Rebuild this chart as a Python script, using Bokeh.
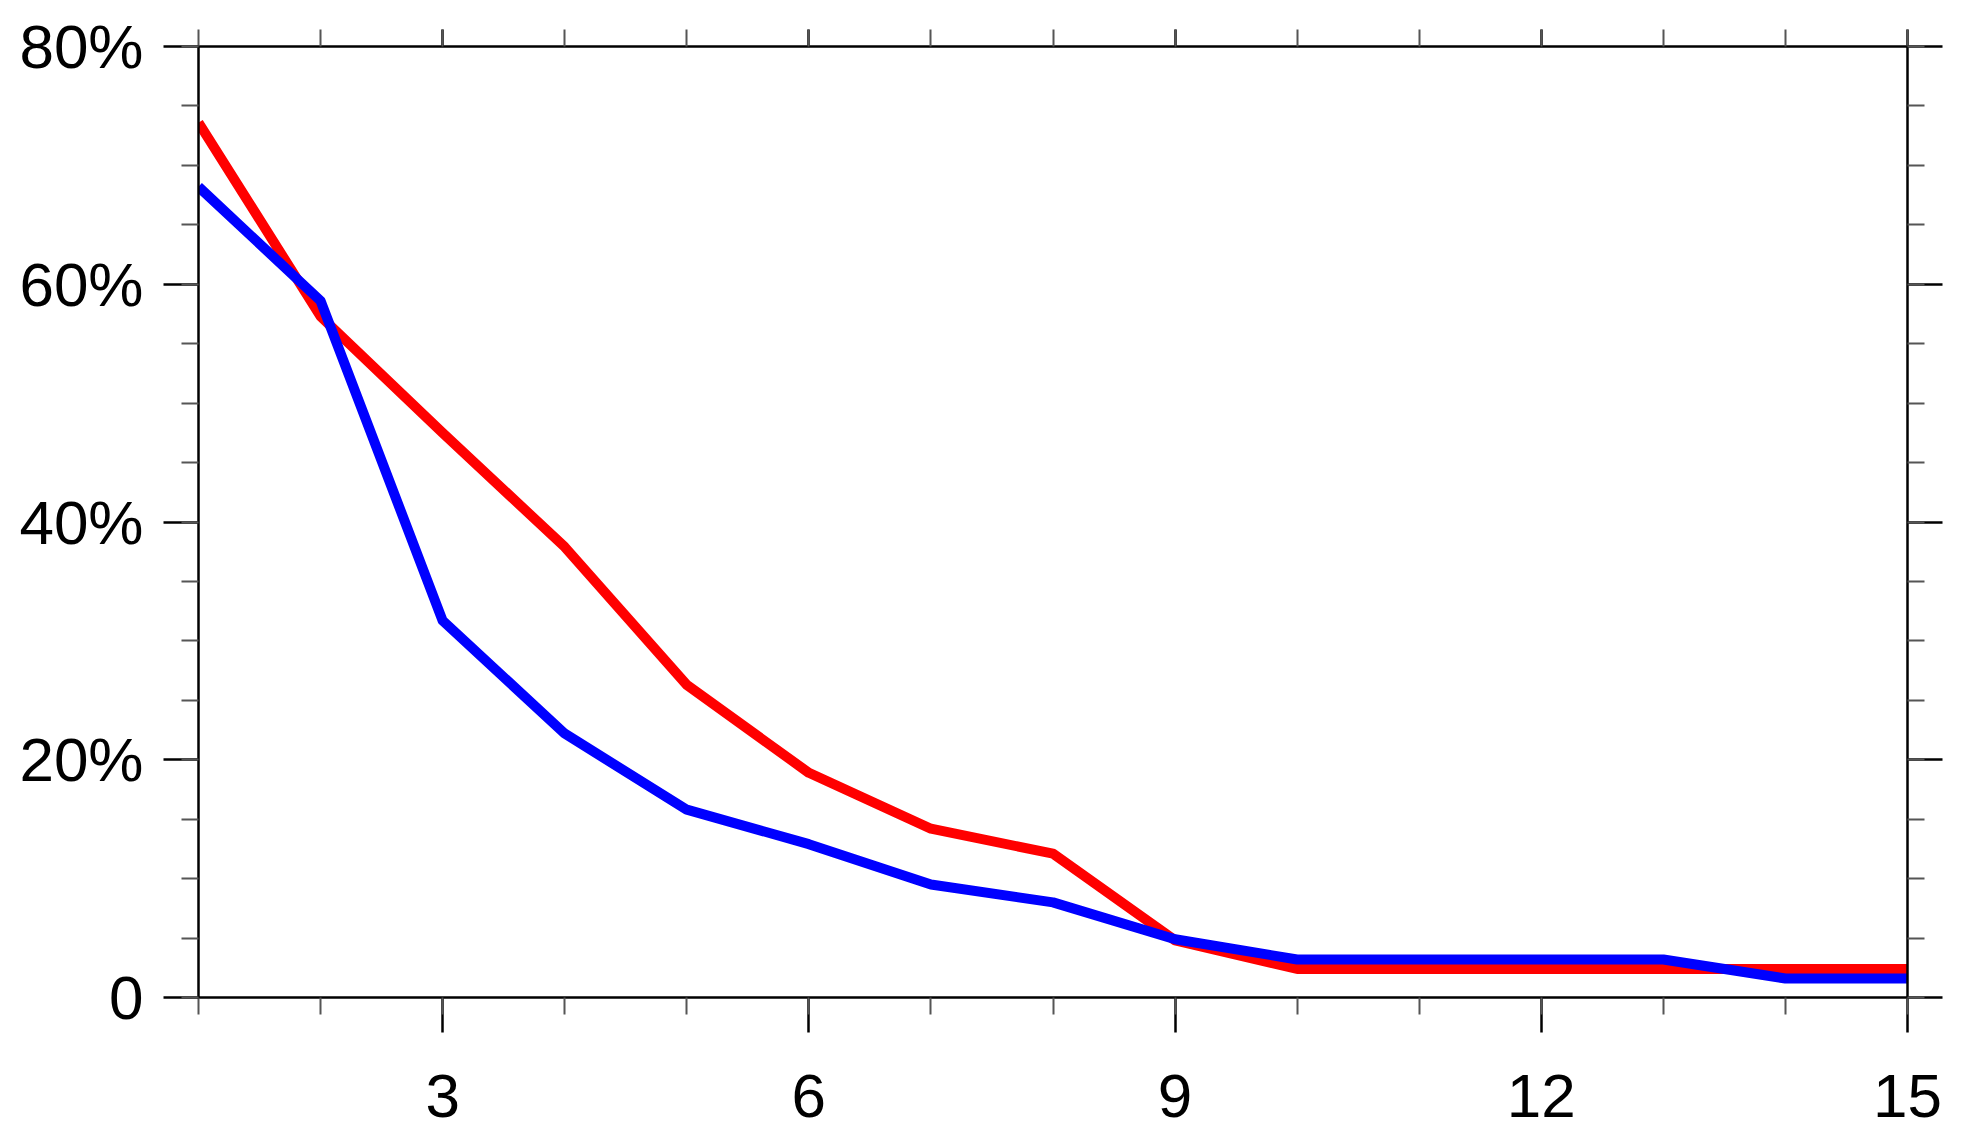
from bokeh.plotting import figure
from bokeh.models import Range1d, LinearAxis, FixedTicker
from bokeh.embed import file_html
from bokeh.resources import INLINE

# ---- data ----
x_vals = list(range(1, 16))
red_vals = [73.6, 57.3, 47.5, 37.9, 26.3, 18.9, 14.2, 12.1, 4.8, 2.4, 2.4, 2.4, 2.4, 2.4, 2.4]
blue_vals = [68.2, 58.6, 31.7, 22.2, 15.8, 12.9, 9.5, 8.0, 4.9, 3.2, 3.2, 3.2, 3.2, 1.6, 1.6]

x_major = [3, 6, 9, 12, 15]
x_minor = list(range(1, 16))
y_major = [0, 20, 40, 60, 80]
y_minor = list(range(0, 81, 5))
y_labels = {0: "0", 20: "20%", 40: "40%", 60: "60%", 80: "80%"}

FONT = "Liberation Sans"

p = figure(width=1956, height=1135, output_backend="svg", toolbar_location=None,
           x_range=Range1d(1, 15), y_range=Range1d(0, 80),
           x_axis_location=None, y_axis_location=None,
           min_border_left=198, min_border_top=46, min_border_right=49, min_border_bottom=138)
p.grid.visible = False
p.outline_line_color = None
p.background_fill_color = "white"
p.border_fill_color = "white"


def style(ax, major_out, minor_out, standoff, size):
    ax.axis_line_color = "black"
    ax.axis_line_width = 2.5
    ax.major_tick_line_color = "black"
    ax.major_tick_line_width = 2.5
    ax.minor_tick_line_color = "#555555"
    ax.minor_tick_line_width = 2
    ax.major_tick_in = 0
    ax.minor_tick_in = 0
    ax.major_tick_out = major_out
    ax.minor_tick_out = minor_out
    ax.major_label_standoff = standoff
    ax.major_label_text_font = FONT
    ax.major_label_text_color = "black"
    ax.major_label_text_font_size = size


xb = LinearAxis(ticker=FixedTicker(ticks=x_major, minor_ticks=x_minor))
style(xb, 35, 17, 42, "62px")
p.add_layout(xb, "below")

xt = LinearAxis(ticker=FixedTicker(ticks=x_major, minor_ticks=x_minor))
style(xt, 17, 17, 0, "10px")
xt.major_label_overrides = {t: "" for t in x_major}
p.add_layout(xt, "above")

yl = LinearAxis(ticker=FixedTicker(ticks=y_major, minor_ticks=y_minor))
style(yl, 35, 17, 20, "62px")
yl.major_label_overrides = y_labels
p.add_layout(yl, "left")

yr = LinearAxis(ticker=FixedTicker(ticks=y_major, minor_ticks=y_minor))
style(yr, 35, 17, 0, "10px")
yr.major_label_overrides = {t: "" for t in y_major}
p.add_layout(yr, "right")

p.line(x_vals, red_vals, line_color="#ff0000", line_width=10, line_join="round")
p.line(x_vals, blue_vals, line_color="#0000ff", line_width=10, line_join="round")

open("out.html", "w").write(file_html(p, INLINE))
